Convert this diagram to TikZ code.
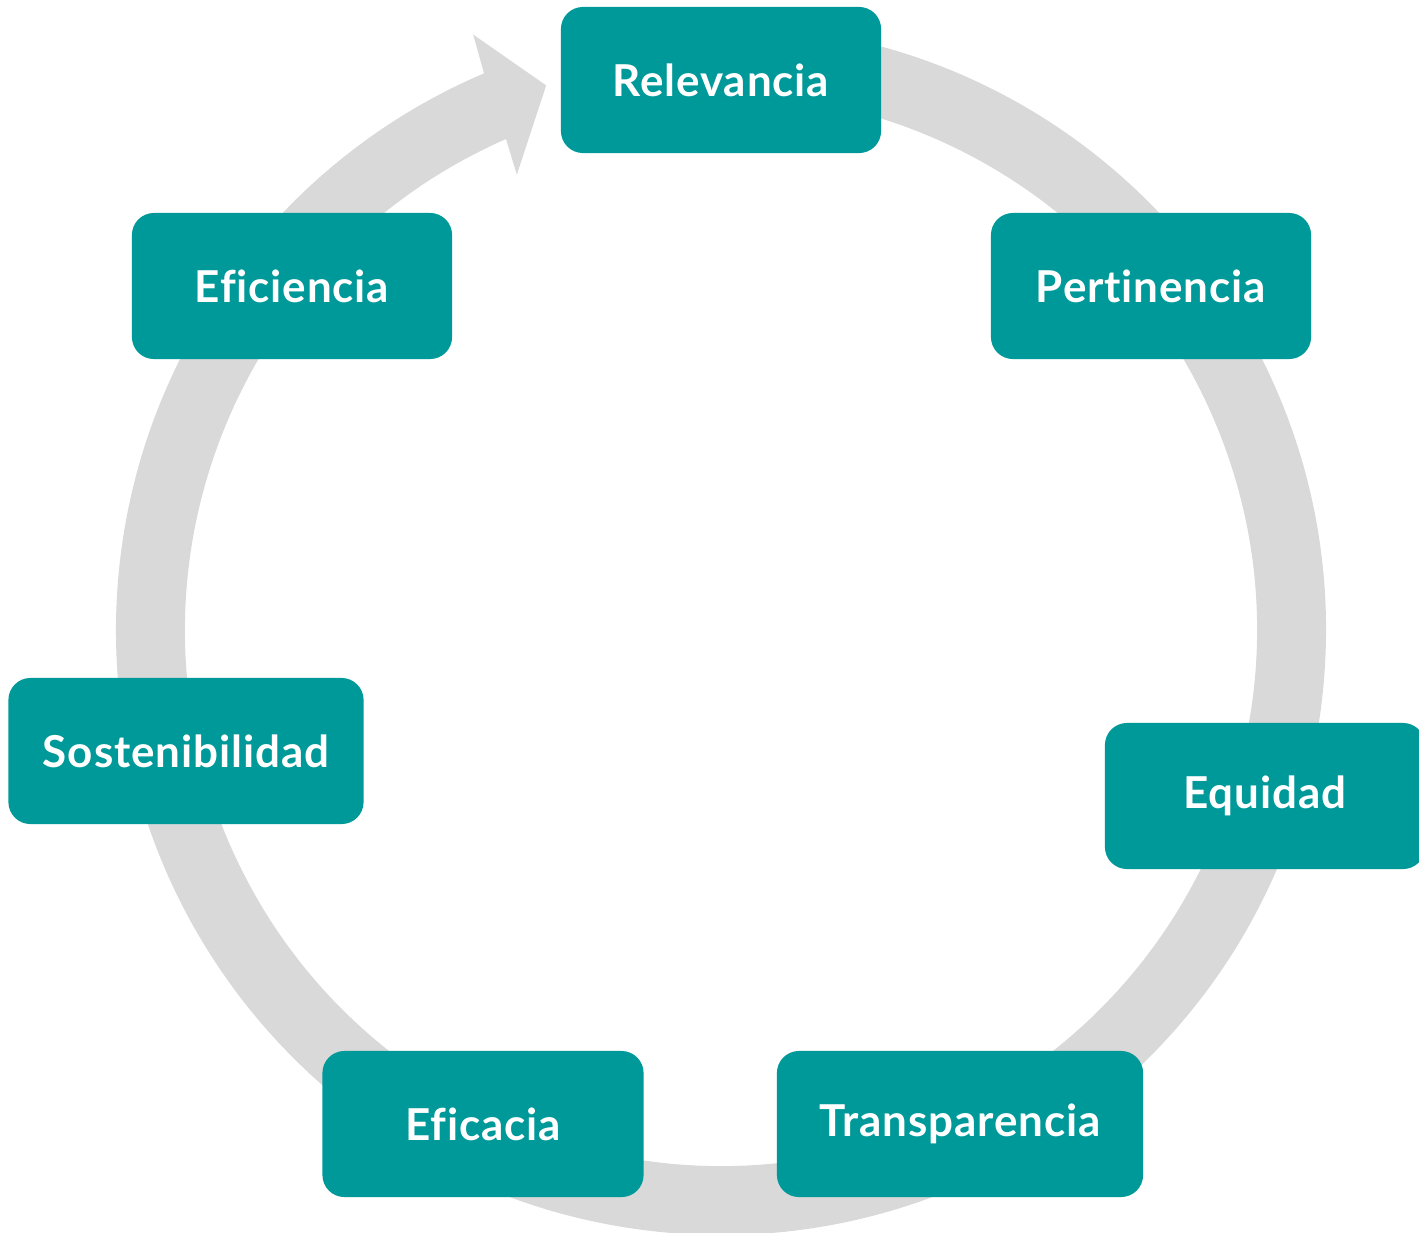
\documentclass[tikz,border=0pt]{standalone}
\usepackage{fontspec}
\setsansfont{Lato}[Ligatures=NoCommon, LetterSpace=2]
\usetikzlibrary{positioning}
\definecolor{ringgray}{HTML}{D9D9D9}
\definecolor{boxteal}{HTML}{009999}
\tikzset{
  ring/.style={fill=ringgray},
  stage/.style={fill=boxteal, rounded corners=0.22cm, minimum width=3.2cm,
    minimum height=1.46cm, inner sep=0pt, text=white,
    font=\sffamily\bfseries\fontsize{12.5pt}{15pt}\selectfont}
}
\begin{document}
\begin{tikzpicture}[x=0.01cm,y=0.01cm]
          \useasboundingbox (0,0) rectangle (1419,1232);
          % ring with arrow head
          \begin{scope}[shift={(721,602)}]
            \fill[ring] (85:605) arc[start angle=85, end angle=-246.94, radius=605]
              -- (112.6:645) -- (107.8:572) -- (114.15:499) -- (113.65:536)
              arc[start angle=-246.35, end angle=85, radius=536] -- cycle;
          \end{scope}
          % stages
          \node[stage] (relevancia) at (721,1152) {Relevancia};
          \node[stage] (pertinencia) at (1151,946) {Pertinencia};
          \node[stage] (equidad) at (1265,436) {Equidad};
          \node[stage, minimum width=3.66cm] (transparencia) at (960,108) {Transparencia};
          \node[stage, minimum width=3.21cm] (eficacia) at (483,108) {Eficacia};
          \node[stage, minimum width=3.55cm] (sostenibilidad) at (186,481) {Sostenibilidad};
          \node[stage] (eficiencia) at (292,946) {Eficiencia};
\end{tikzpicture}
\end{document}
